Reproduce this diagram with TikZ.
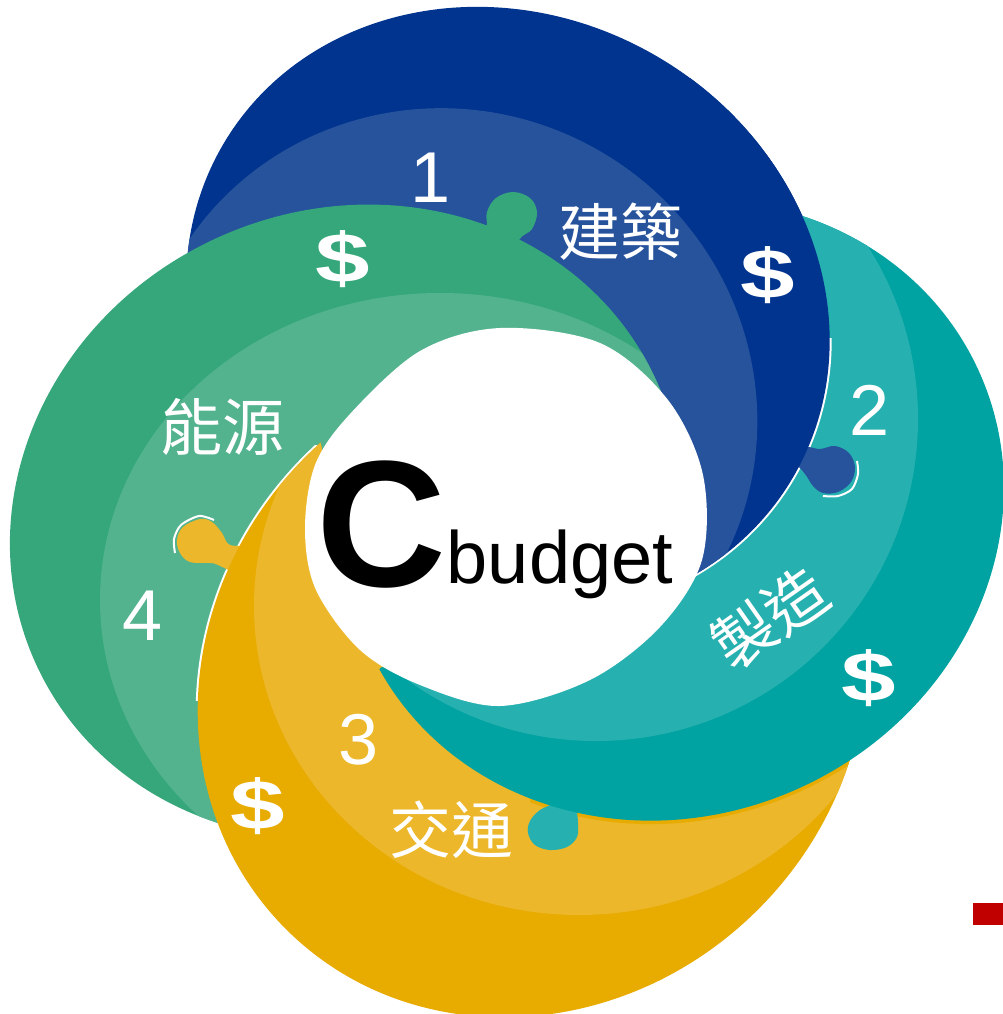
\documentclass[tikz,border=0pt]{standalone}
\usepackage{fontspec}
\setmainfont{Liberation Sans}
\newfontfamily\cjk{Noto Sans CJK TC}
\definecolor{blueD}{RGB}{1,52,142}
\definecolor{blueL}{RGB}{39,83,157}
\definecolor{tealD}{RGB}{0,163,161}
\definecolor{tealL}{RGB}{38,177,176}
\definecolor{yelD}{RGB}{232,171,0}
\definecolor{yelL}{RGB}{236,183,42}
\definecolor{grnD}{RGB}{53,167,123}
\definecolor{grnL}{RGB}{83,179,142}
\definecolor{redbox}{RGB}{192,0,0}
% the eight ellipses (outer = dark, inner = light)
\newcommand\blueP{(508,311) ellipse [x radius=330, y radius=295]}
\newcommand\blueLP{(447,415) ellipse [x radius=312, y radius=305]}
\newcommand\tealP{(674,510) ellipse [x radius=335, y radius=305]}
\newcommand\tealLP{(596,419) circle [radius=322]}
\newcommand\yelP{(532,683) ellipse [x radius=348, y radius=320]}
\newcommand\yelLP{(579,606) ellipse [x radius=325, y radius=309]}
\newcommand\grnP{(346,522) ellipse [x radius=341, y radius=312]}
\newcommand\grnLP{(440,600) ellipse [x radius=340, y radius=307]}
% regions outside which a piece is hidden anyway
\newcommand\yelCut{(0,300) -- (320,440) -- (345,560) -- (420,700) -- (560,770) -- (700,795) -- (800,775) -- (870,740) -- (1003,740) -- (1003,1014) -- (0,1014) -- cycle}
\newcommand\tealCut{(340,700) -- (382,667) -- (500,690) -- (620,630) -- (690,560) -- (730,480) -- (770,350) -- (790,210) -- (790,0) -- (1003,0) -- (1003,1014) -- (340,1014) -- cycle}
\tikzset{
  blueE/.style={rotate around={-30:(508,311)}},
  blueLE/.style={rotate around={-30:(447,415)}},
  tealE/.style={rotate around={25:(674,510)}},
  yelE/.style={rotate around={45:(532,683)}},
  grnE/.style={rotate around={25:(346,522)}},
  num/.style={text=white, font=\fontsize{72}{72}\selectfont, anchor=base, inner sep=0pt},
  dollar/.style={text=white, font=\fontsize{70}{70}\selectfont\bfseries, xscale=1.4, inner sep=0pt},
  cjklab/.style={text=white, font=\cjk\fontsize{62}{62}\selectfont, inner sep=0pt},
  edgeline/.style={white, line width=4pt},
  knobline/.style={white, line width=2pt},
}
\begin{document}
\begin{tikzpicture}[x=1pt,y=-1pt]
\useasboundingbox (0,0) rectangle (1003,1014);
\fill[white] (0,0) rectangle (1003,1014);
% ---- blue piece
\fill[blueD, blueE] \blueP;
\begin{scope}
  \clip[blueE] \blueP;
  \fill[blueL, blueLE] \blueLP;
\end{scope}
% ---- green knob and green piece
\fill[grnD] plot[smooth,tension=0.6] coordinates {(486,265) (487,228) (487,212) (496,198) (513,192) (530,198) (537,212) (532,229) (519,240) (512,265)} -- cycle;
\fill[grnD, grnE] \grnP;
\begin{scope}
  \clip[grnE] \grnP;
  \fill[grnL] \grnLP;
\end{scope}
% ---- yellow edge line, yellow knob, yellow piece
\begin{scope}
  \clip (150,445) rectangle (330,700);
  \draw[edgeline, yelE] \yelP;
\end{scope}
\fill[yelL] plot[smooth,tension=0.6] coordinates {(252,545) (230,545) (222,533) (212,522) (200,519) (183,527) (177,540) (180,553) (190,562) (210,563) (218,565) (240,576)} -- cycle;
\draw[knobline] plot[smooth] coordinates {(175,553) (174,539) (181,525) (199,516) (214,520)};
\begin{scope}
  \clip \yelCut;
  \fill[yelD, yelE] \yelP;
  \clip[yelE] \yelP;
  \fill[yelL] \yelLP;
\end{scope}
% shadow of the teal piece on the yellow one
\begin{scope}
  \clip[yelE] \yelP;
  \clip (530,700) rectangle (870,840);
  \draw[yelD, line width=7pt, tealE] \tealP;
\end{scope}
% ---- teal knob and teal piece
\fill[tealL] plot[smooth,tension=0.6] coordinates {(560,788) (557,801) (540,810) (530,821) (528,833) (535,845) (550,850) (567,847) (577,837) (578,823) (577,807) (580,788)} -- cycle;
\begin{scope}
  \clip \tealCut;
  \fill[tealD, tealE] \tealP;
  \clip[tealE] \tealP;
  \fill[tealL] \tealLP;
\end{scope}
% ---- blue edge line, blue knob, blue piece again over teal
\begin{scope}
  \clip (690,338) rectangle (1003,600);
  \draw[edgeline, blueE] \blueP;
\end{scope}
\fill[blueL] plot[smooth,tension=0.6] coordinates {(780,450) (806,447) (820,449) (835,446) (849,453) (855,467) (851,482) (838,492) (823,493) (813,486) (805,474) (796,466) (780,470)} -- cycle;
\draw[knobline] plot[smooth] coordinates {(857,461) (858,474) (852,489) (838,496) (823,496)};
\begin{scope}
  \clip (690,0) rectangle (1003,620);
  \fill[blueD, blueE] \blueP;
  \clip[blueE] \blueP;
  \fill[blueL, blueLE] \blueLP;
\end{scope}
% ---- centre
\fill[white] plot[smooth cycle,tension=0.55] coordinates {(500,328) (600,343) (668,400) (703,475) (702,560) (660,627) (590,680) (500,706) (420,685) (360,650) (316,590) (305,530) (315,465) (350,414) (420,351)};
% ---- labels
\node[num] (n1) at (431,202) {1};
\node[num] (n2) at (870,435) {2};
\node[num] (n3) at (359,764) {3};
\node[num] (n4) at (143,640) {4};
\node[dollar] (d1) at (343,259) {\$};
\node[dollar] (d2) at (768,275) {\$};
\node[dollar] (d3) at (869,678) {\$};
\node[dollar] (d4) at (258,806) {\$};
\node[cjklab] (t1) at (620,232) {建築};
\node[cjklab, rotate=35] (t2) at (770,618) {製造};
\node[cjklab] (t3) at (451,830) {交通};
\node[cjklab] (t4) at (222,427) {能源};
\node[font=\fontsize{180}{180}\selectfont\bfseries, anchor=base, inner sep=0pt] (C) at (381,586) {C};
\node[font=\fontsize{74}{74}\selectfont, anchor=base, inner sep=0pt] (bud) at (560,583) {budget};
\fill[redbox] (973,903) rectangle (1003,925);
\end{tikzpicture}
\end{document}
